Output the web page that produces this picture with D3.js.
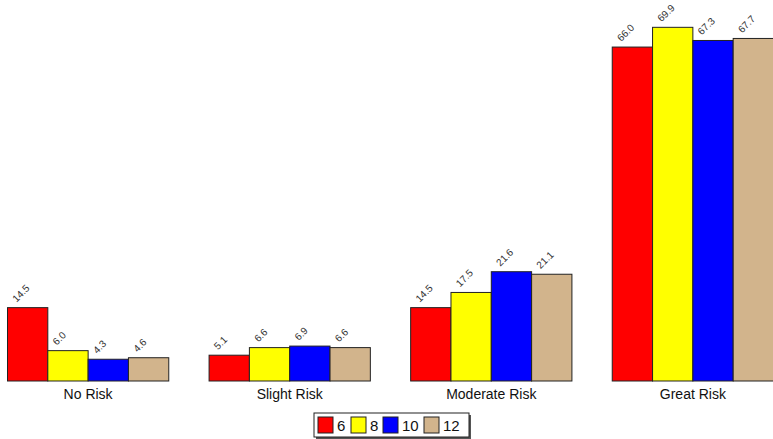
<!DOCTYPE html>
<html>
<head>
<meta charset="utf-8">
<script src="https://cdn.jsdelivr.net/npm/d3@7"></script>
<style>
body { margin: 0; background: #fff; }
svg { display: block; font-family: "Liberation Sans", Arial, sans-serif; }
</style>
</head>
<body>
<svg id="chart" width="773" height="439"></svg>
<script>
var categories = ["No Risk", "Slight Risk", "Moderate Risk", "Great Risk"];
var grades = ["6", "8", "10", "12"];
var grade6 = [14.5, 5.1, 14.5, 66.0];
var grade8 = [6.0, 6.6, 17.5, 69.9];
var grade10 = [4.3, 6.9, 21.6, 67.3];
var grade12 = [4.6, 6.6, 21.1, 67.7];
var colors = ["#ff0000", "#ffff00", "#0000ff", "#d2b48c"];

var series = [grade6, grade8, grade10, grade12];
var svg = d3.select("#chart");

var base = 381;
var y = d3.scaleLinear().domain([0, 75.3]).range([base, 0]);
var x0 = d3.scaleBand().domain(categories).range([7.5, 773.5]).paddingInner(0.2).paddingOuter(0);
var x1 = d3.scaleBand().domain(grades).range([0, x0.bandwidth()]);

var groups = svg.selectAll("g.grp")
    .data(categories)
    .enter().append("g")
    .attr("class", "grp")
    .attr("transform", function(d) { return "translate(" + x0(d) + ",0)"; });

groups.each(function(cat, ci) {
    var g = d3.select(this);
    grades.forEach(function(gr, gi) {
        var v = series[gi][ci];
        g.append("rect")
            .attr("x", x1(gr))
            .attr("y", y(v))
            .attr("width", x1.bandwidth())
            .attr("height", base - y(v))
            .attr("fill", colors[gi])
            .attr("stroke", "#222")
            .attr("stroke-width", 1);
        var lx = x1(gr) + 9, ly = y(v) - 5;
        g.append("text")
            .attr("transform", "translate(" + lx + "," + ly + ") rotate(-45)")
            .attr("font-size", 10)
            .attr("fill", "#333")
            .text(v.toFixed(1));
    });
    g.append("text")
        .attr("x", x0.bandwidth() / 2)
        .attr("y", 398.5)
        .attr("text-anchor", "middle")
        .attr("font-size", 14)
        .attr("fill", "#111")
        .text(cat);
});

// legend
var leg = svg.append("g").attr("transform", "translate(314,413)");
leg.append("rect").attr("x", 2).attr("y", 2).attr("width", 155).attr("height", 24).attr("fill", "#555");
leg.append("rect").attr("x", 0).attr("y", 0).attr("width", 155).attr("height", 24)
    .attr("fill", "#fff").attr("stroke", "#222").attr("stroke-width", 1);
var lx = [4, 37, 69, 110];
grades.forEach(function(gr, i) {
    leg.append("rect").attr("x", lx[i]).attr("y", 4).attr("width", 15).attr("height", 16)
        .attr("fill", colors[i]).attr("stroke", "#222");
    leg.append("text").attr("x", lx[i] + 19).attr("y", 18).attr("font-size", 15)
        .attr("fill", "#111").text(gr);
});
</script>
</body>
</html>
